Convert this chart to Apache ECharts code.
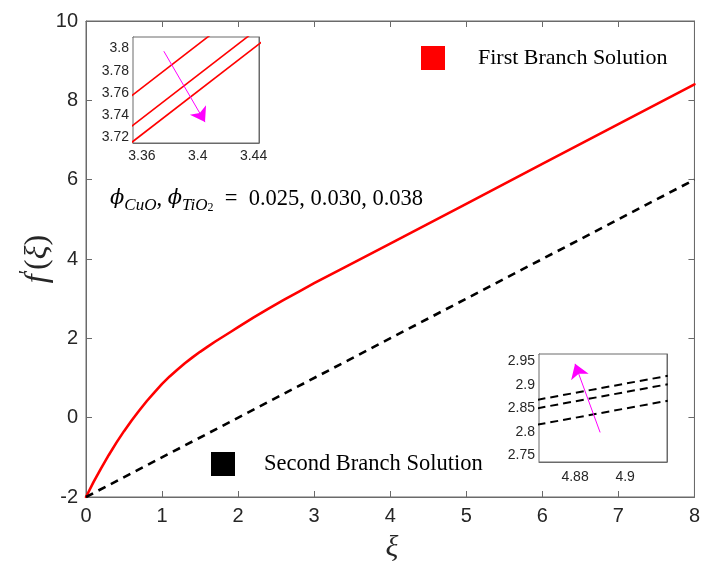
<!DOCTYPE html>
<html><head><meta charset="utf-8">
<script src="https://cdn.jsdelivr.net/npm/echarts@6/dist/echarts.min.js"></script>
<style>html,body{margin:0;padding:0;background:#fff}#c{width:703px;height:563px}</style>
</head><body><div id="c"></div>
<script>
// Main chart data
const xiRed = [0,0.1,0.2,0.3,0.4,0.5,0.6,0.7,0.8,0.9,1.0,1.1,1.2,1.3,1.4,1.5,1.6,1.7,1.8,1.9,2.0,2.2,2.4,2.6,2.8,3.0,3.4,4,5,6,7,8];
const fRed  = [-2,-1.62,-1.27,-0.94,-0.63,-0.34,-0.07,0.18,0.42,0.64,0.85,1.04,1.21,1.37,1.52,1.66,1.79,1.92,2.04,2.16,2.28,2.52,2.75,2.97,3.18,3.39,3.79,4.39,5.39,6.4,7.4,8.4];
const xiBlack = [0, 8];
const fBlack  = [-2, 6];

// Inset 1 (first branch, zoom near xi = 3.4)
const in1X = [3.35, 3.45];
const in1Lines = [[3.755, 3.852],[3.7275, 3.8245],[3.713, 3.810]];
const in1Arrow = [[3.3757, 3.7976],[3.4052, 3.7338]];
const in1XTicks = [3.36, 3.38, 3.40, 3.42, 3.44];
const in1XLabels = [3.36, 3.4, 3.44];
const in1YTicks = [3.72, 3.74, 3.76, 3.78, 3.80];

// Inset 2 (second branch, zoom near xi = 4.89)
const in2X = [4.865, 4.917];
const in2Lines = [[2.8685, 2.9195],[2.8505, 2.9015],[2.8155, 2.8665]];
const in2Arrow = [[4.8900, 2.799],[4.8800, 2.945]];
const in2XTicks = [4.87, 4.88, 4.89, 4.90, 4.91];
const in2XLabels = [4.88, 4.9];
const in2YTicks = [2.75, 2.8, 2.85, 2.9, 2.95];

const zip = (a,b) => a.map((v,i)=>[v,b[i]]);

const chart = echarts.init(document.getElementById('c'), null, {renderer:'canvas'});
const axisCol = '#6a6a6a';
const labCol = '#262626';
const labFont = 'Liberation Sans';

function xa(grid, pos, min, max, opts) {
  return Object.assign({
    type:'value', gridIndex:grid, position:pos, min:min, max:max,
    axisLine:{show:true, onZero:false, lineStyle:{color:axisCol, width:1}},
    splitLine:{show:false},
  }, opts);
}

const insetLab = {color:labCol, fontFamily:labFont, fontSize:14};

const option = {
  animation:false,
  backgroundColor:'#fff',
  grid:[
    {left:86, top:21, width:613, height:476, show:true, borderColor:axisCol, borderWidth:1, backgroundColor:'#fff'},
    {left:133, top:37, width:126, height:106, show:true, borderColor:axisCol, borderWidth:1, backgroundColor:'#fff', z:5},
    {left:539, top:354, width:128, height:108, show:true, borderColor:axisCol, borderWidth:1, backgroundColor:'#fff', z:5}
  ],
  xAxis:[
    xa(0,'bottom',0,8,{interval:1,
      axisTick:{inside:true,length:6,lineStyle:{color:axisCol}},
      axisLabel:{margin:9,color:labCol,fontFamily:labFont,fontSize:20}}),
    xa(0,'top',0,8,{interval:1,
      axisTick:{inside:true,length:6,lineStyle:{color:axisCol}},
      axisLabel:{show:false}}),
    xa(1,'bottom',3.3536,3.4439,{
      axisTick:{inside:true,length:4,customValues:in1XTicks,lineStyle:{color:axisCol}},
      axisLabel:Object.assign({margin:6,customValues:in1XLabels,formatter:v=>String(+v.toFixed(2))},insetLab)}),
    xa(1,'top',3.3536,3.4439,{
      axisTick:{inside:true,length:4,customValues:in1XTicks,lineStyle:{color:axisCol}},
      axisLabel:{show:false}}),
    xa(2,'bottom',4.8656,4.9167,{
      axisTick:{inside:true,length:4,customValues:in2XTicks,lineStyle:{color:axisCol}},
      axisLabel:Object.assign({margin:8,customValues:in2XLabels,formatter:v=>String(+v.toFixed(2))},insetLab)}),
    xa(2,'top',4.8656,4.9167,{
      axisTick:{inside:true,length:4,customValues:in2XTicks,lineStyle:{color:axisCol}},
      axisLabel:{show:false}})
  ],
  yAxis:[
    xa(0,'left',-2,10,{interval:2,
      axisTick:{inside:true,length:6,lineStyle:{color:axisCol}},
      axisLabel:{margin:8,color:labCol,fontFamily:labFont,fontSize:20}}),
    xa(0,'right',-2,10,{interval:2,
      axisTick:{inside:true,length:6,lineStyle:{color:axisCol}},
      axisLabel:{show:false}}),
    xa(1,'left',3.715,3.8104,{
      axisTick:{inside:true,length:4,customValues:in1YTicks,lineStyle:{color:axisCol}},
      axisLabel:Object.assign({margin:4,customValues:in1YTicks,formatter:v=>String(+v.toFixed(2))},insetLab)}),
    xa(1,'right',3.715,3.8104,{
      axisTick:{inside:true,length:4,customValues:in1YTicks,lineStyle:{color:axisCol}},
      axisLabel:{show:false}}),
    xa(2,'left',2.736,2.966,{
      axisTick:{inside:true,length:4,customValues:in2YTicks,lineStyle:{color:axisCol}},
      axisLabel:Object.assign({margin:4,customValues:in2YTicks,formatter:v=>String(+v.toFixed(2))},insetLab)}),
    xa(2,'right',2.736,2.966,{
      axisTick:{inside:true,length:4,customValues:in2YTicks,lineStyle:{color:axisCol}},
      axisLabel:{show:false}})
  ],
  series:[
    {type:'line', xAxisIndex:0, yAxisIndex:0, data:zip(xiRed,fRed), showSymbol:false, smooth:false,
     lineStyle:{color:'#ff0000', width:2.6, join:'round', cap:'round'}},
    {type:'line', xAxisIndex:0, yAxisIndex:0, data:zip(xiBlack,fBlack), showSymbol:false,
     lineStyle:{color:'#000', width:2.6, type:[8,6]}},
    ...in1Lines.map(l=>({type:'line', xAxisIndex:2, yAxisIndex:2, data:zip(in1X,l), showSymbol:false, clip:true, z:6,
     lineStyle:{color:'#ff0000', width:1.6}})),
    {type:'lines', coordinateSystem:'cartesian2d', xAxisIndex:2, yAxisIndex:2, z:7,
     symbol:['none','arrow'], symbolSize:[0,14],
     lineStyle:{color:'#ff00ff', width:1, opacity:1},
     data:[{coords:in1Arrow}]},
    ...in2Lines.map(l=>({type:'line', xAxisIndex:4, yAxisIndex:4, data:zip(in2X,l), showSymbol:false, clip:true, z:6,
     lineStyle:{color:'#000', width:2, type:[8,5]}})),
    {type:'lines', coordinateSystem:'cartesian2d', xAxisIndex:4, yAxisIndex:4, z:7,
     symbol:['none','arrow'], symbolSize:[0,14],
     lineStyle:{color:'#ff00ff', width:1, opacity:1},
     data:[{coords:in2Arrow}]}
  ],
  graphic:[
    {type:'rect', shape:{x:421,y:46,width:24,height:24}, style:{fill:'#ff0000'}, z:10},
    {type:'text', x:478, y:58, style:{text:'First Branch Solution', font:'22px "Liberation Serif"', fill:'#000', textVerticalAlign:'middle'}, z:10},
    {type:'rect', shape:{x:211,y:452,width:24,height:24}, style:{fill:'#000'}, z:10},
    {type:'text', x:264, y:464, style:{text:'Second Branch Solution', font:'22.5px "Liberation Serif"', fill:'#000', textVerticalAlign:'middle'}, z:10},
    {type:'text', x:110, y:199, z:10, style:{
      text:'{m|ϕ}{s|CuO}{n|, }{m|ϕ}{s|TiO}{t|2}{n|  =  0.025, 0.030, 0.038}',
      textVerticalAlign:'middle', fill:'#000',
      rich:{
        m:{fontFamily:'DejaVu Serif', fontStyle:'italic', fontSize:21, lineHeight:30, verticalAlign:'middle'},
        s:{fontFamily:'Liberation Serif', fontStyle:'italic', fontSize:17, lineHeight:16, verticalAlign:'bottom'},
        t:{fontFamily:'Liberation Serif', fontSize:12, lineHeight:12, verticalAlign:'bottom'},
        n:{fontFamily:'Liberation Serif', fontSize:22.5, lineHeight:30, verticalAlign:'middle'}
      }}},
    {type:'text', x:38, y:259, rotation:Math.PI/2, z:10, style:{
      text:'{f|f}{p|′}{n|(}{f|ξ}{n|)}', textAlign:'center', textVerticalAlign:'middle', fill:'#262626',
      rich:{
        f:{fontFamily:'Liberation Serif', fontStyle:'italic', fontSize:32, lineHeight:40, verticalAlign:'middle'},
        p:{fontFamily:'Liberation Serif', fontSize:20, lineHeight:40, verticalAlign:'top'},
        n:{fontFamily:'Liberation Serif', fontSize:32, lineHeight:40, verticalAlign:'middle'}
      }}},
    {type:'text', x:392, y:548, z:10, style:{text:'ξ', font:'italic 30px "Liberation Serif"', fill:'#262626', textAlign:'center', textVerticalAlign:'middle'}}
  ]
};
chart.setOption(option);
</script></body></html>
